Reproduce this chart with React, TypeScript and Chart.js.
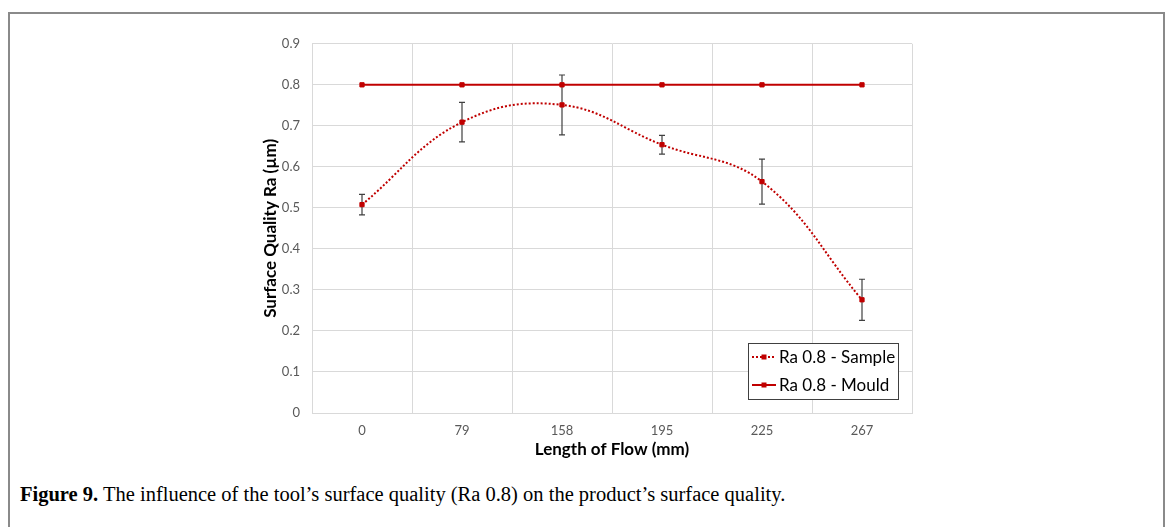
import React, { useEffect, useRef } from "react";
import { Chart, registerables } from "chart.js";

Chart.register(...registerables);

const categories = ["0", "79", "158", "195", "225", "267"];
const sampleValues = [0.508, 0.709, 0.751, 0.654, 0.564, 0.276];
const sampleErrors = [0.025, 0.048, 0.073, 0.023, 0.055, 0.05];
const mouldValues = [0.8, 0.8, 0.8, 0.8, 0.8, 0.8];
const seriesNames = ["Ra 0.8 - Sample", "Ra 0.8 - Mould"];
const yAxisTitle = "Surface Quality Ra (\u00b5m)";
const xAxisTitle = "Length of Flow (mm)";

const RED = "#c00000";

const errorBarPlugin = {
  id: "errorBars",
  beforeDatasetsDraw(chart: any) {
    const { ctx, scales } = chart;
    const xs = scales.x;
    const ys = scales.y;
    ctx.save();
    ctx.strokeStyle = "#404040";
    ctx.lineWidth = 1.2;
    sampleValues.forEach((v, i) => {
      const e = sampleErrors[i];
      const x = xs.getPixelForValue(i);
      const yTop = ys.getPixelForValue(v + e);
      const yBot = ys.getPixelForValue(v - e);
      ctx.beginPath();
      ctx.moveTo(x, yTop);
      ctx.lineTo(x, yBot);
      ctx.moveTo(x - 3, yTop);
      ctx.lineTo(x + 3, yTop);
      ctx.moveTo(x - 3, yBot);
      ctx.lineTo(x + 3, yBot);
      ctx.stroke();
    });
    ctx.restore();
  },
};

const legendPlugin = {
  id: "insideLegend",
  afterDraw(chart: any) {
    const { ctx, chartArea } = chart;
    const w = 150;
    const h = 56;
    const x = Math.round(chartArea.right - 14 - w);
    const y = Math.round(chartArea.bottom - 14 - h);
    ctx.save();
    ctx.fillStyle = "#ffffff";
    ctx.fillRect(x, y, w, h);
    ctx.strokeStyle = "#404040";
    ctx.lineWidth = 1;
    ctx.strokeRect(x + 0.5, y + 0.5, w, h);
    chart.data.datasets.forEach((ds: any, i: number) => {
      const cy = y + 14 + i * 28;
      ctx.strokeStyle = ds.borderColor;
      ctx.lineWidth = 2;
      ctx.setLineDash(ds.borderDash || []);
      ctx.beginPath();
      ctx.moveTo(x + 4, cy);
      ctx.lineTo(x + 28, cy);
      ctx.stroke();
      ctx.setLineDash([]);
      ctx.fillStyle = RED;
      ctx.fillRect(x + 16 - 2.5, cy - 2.5, 5, 5);
      ctx.fillStyle = "#000000";
      ctx.font = "17px Lato";
      ctx.textBaseline = "middle";
      ctx.textAlign = "left";
      ctx.fillText(ds.label, x + 31, cy + 1);
    });
    ctx.restore();
  },
};

export default function App() {
  const canvasRef = useRef<HTMLCanvasElement | null>(null);

  useEffect(() => {
    if (!canvasRef.current) return;
    const chart = new Chart(canvasRef.current, {
      type: "line",
      data: {
        labels: categories,
        datasets: [
          {
            label: seriesNames[0],
            data: sampleValues,
            borderColor: RED,
            backgroundColor: RED,
            borderWidth: 2,
            borderDash: [2, 2],
            tension: 0.4,
            pointStyle: "rect",
            pointRadius: 3,
            pointBorderWidth: 1,
            pointBorderColor: RED,
            pointBackgroundColor: RED,
            fill: false,
          },
          {
            label: seriesNames[1],
            data: mouldValues,
            borderColor: RED,
            backgroundColor: RED,
            borderWidth: 2,
            tension: 0,
            pointStyle: "rect",
            pointRadius: 3,
            pointBorderWidth: 1,
            pointBorderColor: RED,
            pointBackgroundColor: RED,
            fill: false,
          },
        ],
      },
      options: {
        animation: false,
        responsive: false,
        maintainAspectRatio: false,
        layout: { padding: { top: 8, right: 18, left: 0, bottom: 0 } },
        plugins: {
          legend: { display: false },
          tooltip: { enabled: false },
        },
        scales: {
          x: {
            offset: true,
            grid: { offset: true, color: "#d9d9d9", drawTicks: false },
            border: { color: "#d9d9d9" },
            ticks: {
              color: "#595959",
              font: { family: "Lato", size: 13 },
              padding: 10,
            },
            title: {
              display: true,
              text: xAxisTitle,
              color: "#000000",
              font: { family: "Lato", size: 17, weight: "bold" },
              padding: { top: 0, bottom: 20 },
            },
            afterFit(scale: any) {
              scale.height = 67;
            },
          },
          y: {
            min: 0,
            max: 0.9,
            grid: { color: "#d9d9d9", drawTicks: false },
            border: { color: "#d9d9d9" },
            ticks: {
              stepSize: 0.1,
              color: "#595959",
              font: { family: "Lato", size: 13 },
              padding: 12,
              callback: (v: any) => String(Number(Number(v).toFixed(1))),
            },
            title: {
              display: true,
              text: yAxisTitle,
              color: "#000000",
              font: { family: "Lato", size: 17, weight: "bold" },
              padding: { top: 10, bottom: 0 },
            },
            afterFit(scale: any) {
              scale.width = 62;
            },
          },
        },
      },
      plugins: [errorBarPlugin, legendPlugin],
    } as any);
    return () => chart.destroy();
  }, []);

  return (
    <div
      style={{
        position: "fixed",
        left: 0,
        top: 0,
        width: 1169,
        height: 527,
        overflow: "hidden",
        background: "#ffffff",
      }}
    >
      <div
        style={{
          position: "absolute",
          left: 8,
          top: 12,
          width: 1157,
          height: 600,
          boxSizing: "border-box",
          border: "2px solid #8a8a8a",
        }}
      />
      <canvas
        ref={canvasRef}
        width={680}
        height={456}
        style={{ position: "absolute", left: 250, top: 24, width: 680, height: 456 }}
      />
      <div
        style={{
          position: "absolute",
          left: 20,
          top: 482,
          fontFamily: "'Liberation Serif', 'DejaVu Serif', serif",
          fontSize: 20.5,
          lineHeight: "24px",
          color: "#000000",
          whiteSpace: "nowrap",
        }}
      >
        <b>Figure 9.</b> The influence of the tool’s surface quality (Ra 0.8) on the product’s surface quality.
      </div>
    </div>
  );
}
